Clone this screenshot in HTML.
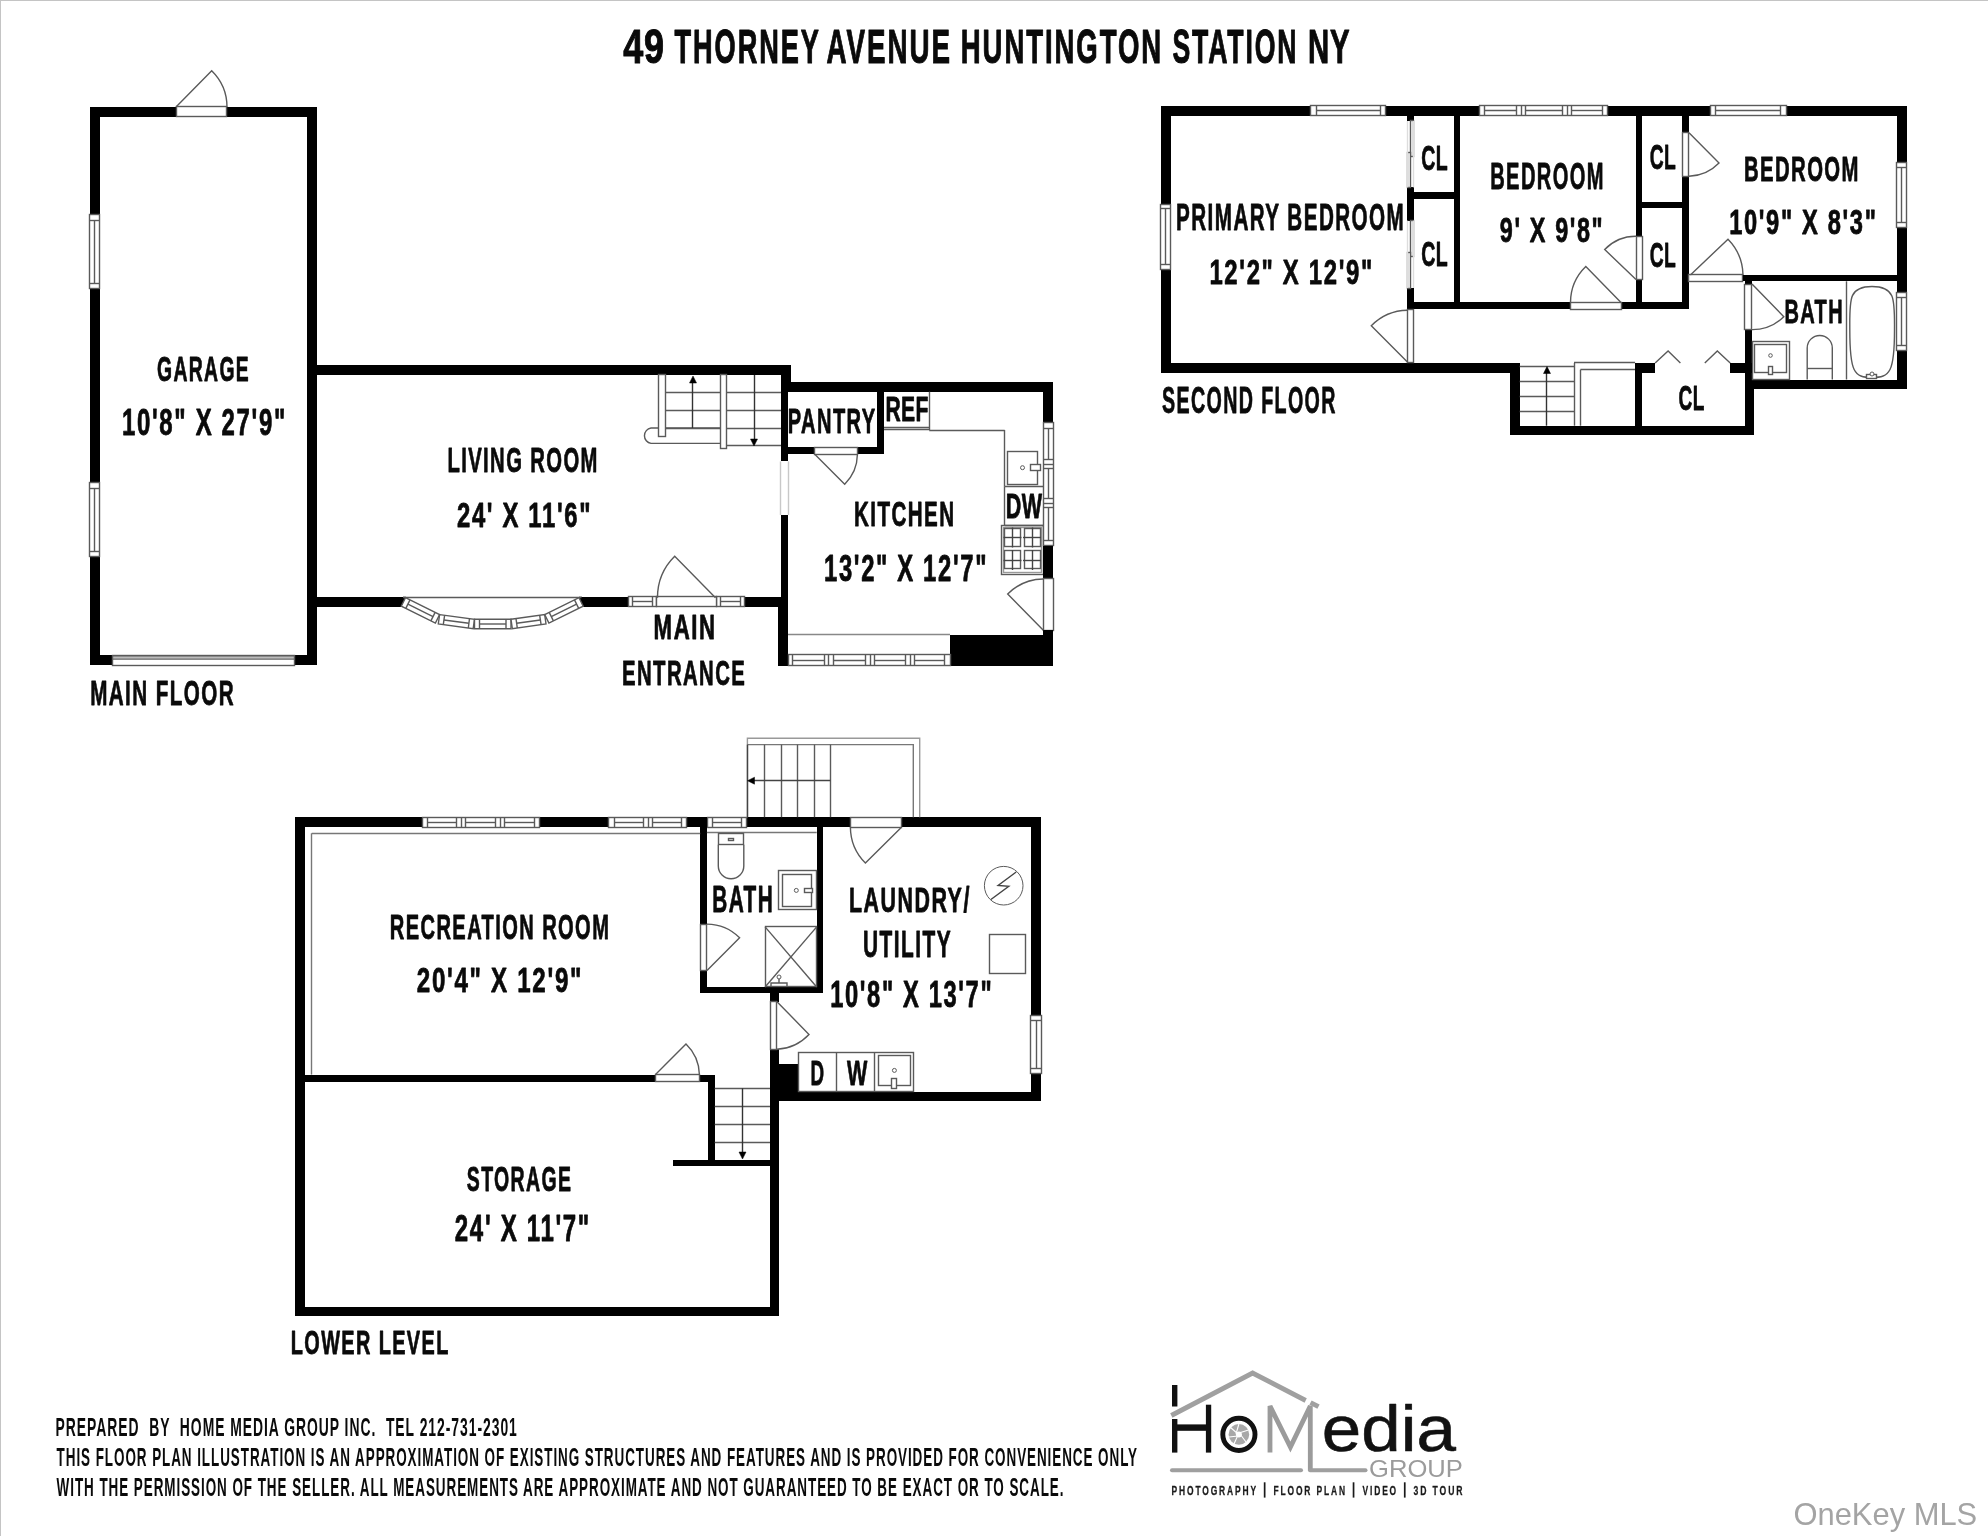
<!DOCTYPE html>
<html><head><meta charset="utf-8"><title>49 Thorney Avenue Floor Plan</title>
<style>
html,body{margin:0;padding:0;background:#fff;}
body{width:1988px;height:1536px;overflow:hidden;position:relative;}
svg{position:absolute;left:0;top:0;}
svg{will-change:transform;}
text{font-family:"Liberation Sans",sans-serif;}
</style></head><body>
<svg width="1988" height="1536" viewBox="0 0 1988 1536">
<rect x="0" y="0" width="1988" height="1" fill="#c4c4c4"/><rect x="0" y="0" width="1" height="1536" fill="#c4c4c4"/>
<rect x="90.0" y="107.0" width="86.0" height="10.0" fill="#000"/>
<rect x="227.0" y="107.0" width="90.0" height="10.0" fill="#000"/>
<rect x="90.0" y="107.0" width="10.0" height="108.0" fill="#000"/>
<rect x="90.0" y="288.0" width="10.0" height="195.0" fill="#000"/>
<rect x="90.0" y="556.0" width="10.0" height="109.0" fill="#000"/>
<rect x="307.0" y="107.0" width="10.0" height="558.0" fill="#000"/>
<rect x="90.0" y="655.0" width="22.0" height="10.0" fill="#000"/>
<rect x="294.0" y="655.0" width="23.0" height="10.0" fill="#000"/>
<rect x="89.5" y="214.5" width="10.0" height="74.0" fill="#fff" stroke="#5a5a5a" stroke-width="1.4"/>
<line x1="89.5" y1="220.5" x2="99.6" y2="220.5" stroke="#5a5a5a" stroke-width="1.4"/>
<line x1="89.5" y1="283.5" x2="99.6" y2="283.5" stroke="#5a5a5a" stroke-width="1.4"/>
<line x1="94.5" y1="220.0" x2="94.5" y2="283.5" stroke="#5a5a5a" stroke-width="1.4"/>
<rect x="89.5" y="482.5" width="10.0" height="74.0" fill="#fff" stroke="#5a5a5a" stroke-width="1.4"/>
<line x1="89.5" y1="488.5" x2="99.6" y2="488.5" stroke="#5a5a5a" stroke-width="1.4"/>
<line x1="89.5" y1="551.5" x2="99.6" y2="551.5" stroke="#5a5a5a" stroke-width="1.4"/>
<line x1="94.5" y1="488.0" x2="94.5" y2="551.5" stroke="#5a5a5a" stroke-width="1.4"/>
<rect x="176.5" y="106.5" width="50.0" height="10.0" fill="#fff" stroke="#5a5a5a" stroke-width="1.4"/>
<path d="M176.0 107.0 L211.7 70.8 A51.0 51.0 0 0 1 227.0 107.0" stroke="#5a5a5a" stroke-width="1.4" fill="none"/>
<rect x="112.0" y="655.0" width="182.0" height="5.0" fill="#8a8a8a"/>
<line x1="112.0" y1="657.5" x2="294.0" y2="657.5" stroke="#bbb" stroke-width="1.4"/>
<rect x="112.5" y="655.5" width="182.0" height="10.0" fill="none" stroke="#5a5a5a" stroke-width="1.4"/>
<rect x="317.0" y="365.0" width="474.0" height="10.0" fill="#000"/>
<rect x="781.0" y="365.0" width="10.0" height="27.0" fill="#000"/>
<rect x="781.0" y="382.0" width="7.0" height="79.0" fill="#000"/>
<line x1="780.5" y1="461.4" x2="780.5" y2="515.0" stroke="#c8c8c8" stroke-width="1.4"/>
<line x1="788.5" y1="461.4" x2="788.5" y2="515.0" stroke="#c8c8c8" stroke-width="1.4"/>
<rect x="781.0" y="515.0" width="7.0" height="92.0" fill="#000"/>
<rect x="778.0" y="597.0" width="10.0" height="69.0" fill="#000"/>
<rect x="317.0" y="597.0" width="86.0" height="10.0" fill="#000"/>
<rect x="582.0" y="597.0" width="46.0" height="10.0" fill="#000"/>
<path d="M403.0 597.0 L405.8 597.0 L402.0 606.6 L403.0 606.6 Z" stroke="#000" stroke-width="0.5" fill="#000"/>
<path d="M582.0 597.0 L579.0 597.0 L582.0 606.6 Z" stroke="#000" stroke-width="0.5" fill="#000"/>
<rect x="745.0" y="597.0" width="36.0" height="10.0" fill="#000"/>
<line x1="403.0" y1="597.5" x2="581.5" y2="597.5" stroke="#5a5a5a" stroke-width="1.4"/>
<path d="M405.5 597.7 L439.6 614.6 L435.4 623.1 L401.3 606.2 Z" stroke="#5a5a5a" stroke-width="1.4" fill="#fff"/>
<path d="M407.9 604.2 L433.0 616.6" stroke="#5a5a5a" stroke-width="1.4" fill="none"/>
<path d="M410.0 599.9 L405.8 608.4" stroke="#5a5a5a" stroke-width="1.4" fill="none"/>
<path d="M435.1 612.4 L430.9 620.9" stroke="#5a5a5a" stroke-width="1.4" fill="none"/>
<path d="M439.6 614.6 L474.5 619.3 L473.2 628.7 L438.3 624.0 Z" stroke="#5a5a5a" stroke-width="1.4" fill="#fff"/>
<path d="M443.9 620.0 L468.9 623.3" stroke="#5a5a5a" stroke-width="1.4" fill="none"/>
<path d="M444.6 615.3 L443.3 624.7" stroke="#5a5a5a" stroke-width="1.4" fill="none"/>
<path d="M469.5 618.6 L468.3 628.0" stroke="#5a5a5a" stroke-width="1.4" fill="none"/>
<path d="M474.5 619.3 L511.0 619.3 L511.0 628.8 L474.5 628.8 Z" stroke="#5a5a5a" stroke-width="1.4" fill="#fff"/>
<path d="M479.5 624.0 L506.0 624.0" stroke="#5a5a5a" stroke-width="1.4" fill="none"/>
<path d="M479.5 619.3 L479.5 628.8" stroke="#5a5a5a" stroke-width="1.4" fill="none"/>
<path d="M506.0 619.3 L506.0 628.8" stroke="#5a5a5a" stroke-width="1.4" fill="none"/>
<path d="M511.0 619.3 L544.7 614.6 L546.0 624.0 L512.3 628.7 Z" stroke="#5a5a5a" stroke-width="1.4" fill="#fff"/>
<path d="M516.6 623.3 L540.4 620.0" stroke="#5a5a5a" stroke-width="1.4" fill="none"/>
<path d="M516.0 618.6 L517.3 628.0" stroke="#5a5a5a" stroke-width="1.4" fill="none"/>
<path d="M539.7 615.3 L541.1 624.7" stroke="#5a5a5a" stroke-width="1.4" fill="none"/>
<path d="M544.7 614.6 L579.0 597.7 L583.2 606.2 L548.9 623.1 Z" stroke="#5a5a5a" stroke-width="1.4" fill="#fff"/>
<path d="M551.3 616.7 L576.6 604.2" stroke="#5a5a5a" stroke-width="1.4" fill="none"/>
<path d="M549.2 612.4 L553.4 620.9" stroke="#5a5a5a" stroke-width="1.4" fill="none"/>
<path d="M574.5 599.9 L578.7 608.4" stroke="#5a5a5a" stroke-width="1.4" fill="none"/>
<rect x="628.5" y="596.5" width="28.0" height="10.0" fill="#fff" stroke="#5a5a5a" stroke-width="1.4"/>
<line x1="632.5" y1="597.0" x2="632.5" y2="606.6" stroke="#5a5a5a" stroke-width="1.4"/>
<line x1="652.5" y1="597.0" x2="652.5" y2="606.6" stroke="#5a5a5a" stroke-width="1.4"/>
<line x1="633.0" y1="601.5" x2="652.0" y2="601.5" stroke="#5a5a5a" stroke-width="1.4"/>
<rect x="716.5" y="596.5" width="28.0" height="10.0" fill="#fff" stroke="#5a5a5a" stroke-width="1.4"/>
<line x1="720.5" y1="597.0" x2="720.5" y2="606.6" stroke="#5a5a5a" stroke-width="1.4"/>
<line x1="740.5" y1="597.0" x2="740.5" y2="606.6" stroke="#5a5a5a" stroke-width="1.4"/>
<line x1="721.0" y1="601.5" x2="740.0" y2="601.5" stroke="#5a5a5a" stroke-width="1.4"/>
<rect x="656.5" y="596.5" width="60.0" height="10.0" fill="#fff" stroke="#5a5a5a" stroke-width="1.4"/>
<path d="M715.5 597.7 L674.7 556.2 A58.0 58.0 0 0 0 657.5 597.7" stroke="#5a5a5a" stroke-width="1.4" fill="none"/>
<line x1="665.8" y1="392.5" x2="720.0" y2="392.5" stroke="#5a5a5a" stroke-width="1.4"/>
<line x1="727.0" y1="392.5" x2="781.0" y2="392.5" stroke="#5a5a5a" stroke-width="1.4"/>
<line x1="665.8" y1="410.5" x2="720.0" y2="410.5" stroke="#5a5a5a" stroke-width="1.4"/>
<line x1="727.0" y1="410.5" x2="781.0" y2="410.5" stroke="#5a5a5a" stroke-width="1.4"/>
<line x1="665.8" y1="428.5" x2="720.0" y2="428.5" stroke="#5a5a5a" stroke-width="1.4"/>
<line x1="727.0" y1="428.5" x2="781.0" y2="428.5" stroke="#5a5a5a" stroke-width="1.4"/>
<line x1="727.0" y1="445.5" x2="781.0" y2="445.5" stroke="#5a5a5a" stroke-width="1.4"/>
<path d="M720 428 L651 428 A7.8 7.8 0 0 0 651 443.4 L720 443.4" stroke="#5a5a5a" stroke-width="1.4" fill="none"/>
<rect x="658.5" y="374.5" width="7.0" height="62.0" fill="#fff" stroke="#5a5a5a" stroke-width="1.4"/>
<rect x="720.5" y="374.5" width="6.0" height="74.0" fill="#fff" stroke="#5a5a5a" stroke-width="1.4"/>
<line x1="692.5" y1="383.0" x2="692.5" y2="428.0" stroke="#333" stroke-width="1.4"/>
<path d="M689.5 383.0 L696.5 383.0 L693.0 376.0 Z" stroke="#000" stroke-width="0.5" fill="#000"/>
<line x1="754.5" y1="375.0" x2="754.5" y2="440.0" stroke="#333" stroke-width="1.4"/>
<path d="M750.5 439.0 L757.5 439.0 L754.0 446.0 Z" stroke="#000" stroke-width="0.5" fill="#000"/>
<rect x="791.0" y="382.0" width="262.0" height="10.0" fill="#000"/>
<rect x="788.0" y="447.0" width="26.0" height="7.0" fill="#000"/>
<rect x="857.0" y="447.0" width="27.0" height="7.0" fill="#000"/>
<rect x="877.0" y="392.0" width="7.0" height="62.0" fill="#000"/>
<rect x="814.5" y="447.5" width="43.0" height="7.0" fill="#fff" stroke="#5a5a5a" stroke-width="1.4"/>
<path d="M815.0 454.5 L844.7 484.2 A42.4 42.4 0 0 0 857.4 454.5" stroke="#5a5a5a" stroke-width="1.4" fill="none"/>
<line x1="884.0" y1="427.5" x2="929.2" y2="427.5" stroke="#5a5a5a" stroke-width="1.4"/>
<line x1="884.0" y1="429.5" x2="929.2" y2="429.5" stroke="#5a5a5a" stroke-width="1.4"/>
<line x1="929.5" y1="391.7" x2="929.5" y2="430.0" stroke="#5a5a5a" stroke-width="1.4"/>
<line x1="929.2" y1="430.5" x2="1004.7" y2="430.5" stroke="#5a5a5a" stroke-width="1.4"/>
<line x1="1004.5" y1="430.0" x2="1004.5" y2="486.2" stroke="#5a5a5a" stroke-width="1.4"/>
<rect x="1007.5" y="451.5" width="30.0" height="33.0" fill="none" stroke="#5a5a5a" stroke-width="1.4"/>
<circle cx="1022.5" cy="467.7" r="2" fill="none" stroke="#5a5a5a"/>
<rect x="1030.5" y="464.5" width="10.0" height="6.0" fill="#fff" stroke="#5a5a5a" stroke-width="1.4"/>
<line x1="1004.7" y1="486.5" x2="1043.3" y2="486.5" stroke="#5a5a5a" stroke-width="1.4"/>
<line x1="1004.5" y1="486.2" x2="1004.5" y2="525.3" stroke="#5a5a5a" stroke-width="1.4"/>
<line x1="1004.7" y1="525.5" x2="1043.3" y2="525.5" stroke="#5a5a5a" stroke-width="1.4"/>
<rect x="1001.5" y="525.5" width="42.0" height="49.0" fill="none" stroke="#5a5a5a" stroke-width="1.4"/>
<rect x="1003.5" y="527.5" width="38.0" height="45.0" fill="none" stroke="#999" stroke-width="1.4"/>
<rect x="1004.5" y="528.5" width="16.0" height="18.0" fill="none" stroke="#5a5a5a" stroke-width="1.4"/>
<line x1="1012.5" y1="527.5" x2="1012.5" y2="547.5" stroke="#444" stroke-width="1.4"/>
<line x1="1003.5" y1="537.5" x2="1021.5" y2="537.5" stroke="#444" stroke-width="1.4"/>
<rect x="1024.5" y="528.5" width="16.0" height="18.0" fill="none" stroke="#5a5a5a" stroke-width="1.4"/>
<line x1="1032.5" y1="527.5" x2="1032.5" y2="547.5" stroke="#444" stroke-width="1.4"/>
<line x1="1023.0" y1="537.5" x2="1041.0" y2="537.5" stroke="#444" stroke-width="1.4"/>
<rect x="1004.5" y="550.5" width="16.0" height="18.0" fill="none" stroke="#5a5a5a" stroke-width="1.4"/>
<line x1="1012.5" y1="550.0" x2="1012.5" y2="570.0" stroke="#444" stroke-width="1.4"/>
<line x1="1003.5" y1="560.5" x2="1021.5" y2="560.5" stroke="#444" stroke-width="1.4"/>
<rect x="1024.5" y="550.5" width="16.0" height="18.0" fill="none" stroke="#5a5a5a" stroke-width="1.4"/>
<line x1="1032.5" y1="550.0" x2="1032.5" y2="570.0" stroke="#444" stroke-width="1.4"/>
<line x1="1023.0" y1="560.5" x2="1041.0" y2="560.5" stroke="#444" stroke-width="1.4"/>
<line x1="788.0" y1="634.5" x2="950.0" y2="634.5" stroke="#888" stroke-width="1.4"/>
<rect x="950.0" y="635.0" width="103.0" height="31.0" fill="#000"/>
<rect x="1043.0" y="382.0" width="10.0" height="41.0" fill="#000"/>
<rect x="1043.5" y="422.5" width="10.0" height="123.0" fill="#fff" stroke="#5a5a5a" stroke-width="1.4"/>
<line x1="1043.3" y1="428.5" x2="1053.3" y2="428.5" stroke="#5a5a5a" stroke-width="1.4"/>
<line x1="1043.3" y1="459.5" x2="1053.3" y2="459.5" stroke="#5a5a5a" stroke-width="1.4"/>
<line x1="1048.5" y1="428.0" x2="1048.5" y2="459.8" stroke="#5a5a5a" stroke-width="1.4"/>
<line x1="1043.3" y1="468.5" x2="1053.3" y2="468.5" stroke="#5a5a5a" stroke-width="1.4"/>
<line x1="1043.3" y1="498.5" x2="1053.3" y2="498.5" stroke="#5a5a5a" stroke-width="1.4"/>
<line x1="1048.5" y1="468.8" x2="1048.5" y2="498.9" stroke="#5a5a5a" stroke-width="1.4"/>
<line x1="1043.3" y1="507.5" x2="1053.3" y2="507.5" stroke="#5a5a5a" stroke-width="1.4"/>
<line x1="1043.3" y1="540.5" x2="1053.3" y2="540.5" stroke="#5a5a5a" stroke-width="1.4"/>
<line x1="1048.5" y1="507.9" x2="1048.5" y2="540.8" stroke="#5a5a5a" stroke-width="1.4"/>
<line x1="1043.3" y1="464.5" x2="1053.3" y2="464.5" stroke="#5a5a5a" stroke-width="1.4"/>
<line x1="1043.3" y1="503.5" x2="1053.3" y2="503.5" stroke="#5a5a5a" stroke-width="1.4"/>
<rect x="1043.0" y="546.0" width="10.0" height="33.0" fill="#000"/>
<rect x="1043.5" y="578.5" width="10.0" height="52.0" fill="#fff" stroke="#5a5a5a" stroke-width="1.4"/>
<rect x="1043.0" y="630.0" width="10.0" height="36.0" fill="#000"/>
<path d="M1043.3 630.2 L1007.7 594.0 A51.2 51.2 0 0 1 1043.3 579.0" stroke="#5a5a5a" stroke-width="1.4" fill="none"/>
<rect x="788.5" y="654.5" width="162.0" height="11.0" fill="#fff" stroke="#5a5a5a" stroke-width="1.4"/>
<line x1="792.5" y1="655.0" x2="792.5" y2="665.6" stroke="#5a5a5a" stroke-width="1.4"/>
<line x1="824.5" y1="655.0" x2="824.5" y2="665.6" stroke="#5a5a5a" stroke-width="1.4"/>
<line x1="793.0" y1="660.5" x2="824.5" y2="660.5" stroke="#5a5a5a" stroke-width="1.4"/>
<line x1="833.5" y1="655.0" x2="833.5" y2="665.6" stroke="#5a5a5a" stroke-width="1.4"/>
<line x1="865.5" y1="655.0" x2="865.5" y2="665.6" stroke="#5a5a5a" stroke-width="1.4"/>
<line x1="833.5" y1="660.5" x2="865.5" y2="660.5" stroke="#5a5a5a" stroke-width="1.4"/>
<line x1="874.5" y1="655.0" x2="874.5" y2="665.6" stroke="#5a5a5a" stroke-width="1.4"/>
<line x1="905.5" y1="655.0" x2="905.5" y2="665.6" stroke="#5a5a5a" stroke-width="1.4"/>
<line x1="874.5" y1="660.5" x2="905.5" y2="660.5" stroke="#5a5a5a" stroke-width="1.4"/>
<line x1="914.5" y1="655.0" x2="914.5" y2="665.6" stroke="#5a5a5a" stroke-width="1.4"/>
<line x1="944.5" y1="655.0" x2="944.5" y2="665.6" stroke="#5a5a5a" stroke-width="1.4"/>
<line x1="914.5" y1="660.5" x2="945.0" y2="660.5" stroke="#5a5a5a" stroke-width="1.4"/>
<line x1="828.5" y1="655.0" x2="828.5" y2="665.6" stroke="#5a5a5a" stroke-width="1.4"/>
<line x1="870.5" y1="655.0" x2="870.5" y2="665.6" stroke="#5a5a5a" stroke-width="1.4"/>
<line x1="910.5" y1="655.0" x2="910.5" y2="665.6" stroke="#5a5a5a" stroke-width="1.4"/>
<rect x="1161.0" y="106.0" width="150.0" height="10.0" fill="#000"/>
<rect x="1386.0" y="106.0" width="94.0" height="10.0" fill="#000"/>
<rect x="1608.0" y="106.0" width="103.0" height="10.0" fill="#000"/>
<rect x="1786.0" y="106.0" width="121.0" height="10.0" fill="#000"/>
<rect x="1310.5" y="105.5" width="75.0" height="10.0" fill="#fff" stroke="#5a5a5a" stroke-width="1.4"/>
<line x1="1316.5" y1="105.5" x2="1316.5" y2="115.5" stroke="#5a5a5a" stroke-width="1.4"/>
<line x1="1380.5" y1="105.5" x2="1380.5" y2="115.5" stroke="#5a5a5a" stroke-width="1.4"/>
<line x1="1316.0" y1="110.5" x2="1380.7" y2="110.5" stroke="#5a5a5a" stroke-width="1.4"/>
<rect x="1479.5" y="105.5" width="128.0" height="10.0" fill="#fff" stroke="#5a5a5a" stroke-width="1.4"/>
<line x1="1484.5" y1="105.5" x2="1484.5" y2="115.5" stroke="#5a5a5a" stroke-width="1.4"/>
<line x1="1516.5" y1="105.5" x2="1516.5" y2="115.5" stroke="#5a5a5a" stroke-width="1.4"/>
<line x1="1484.8" y1="110.5" x2="1516.8" y2="110.5" stroke="#5a5a5a" stroke-width="1.4"/>
<line x1="1525.5" y1="105.5" x2="1525.5" y2="115.5" stroke="#5a5a5a" stroke-width="1.4"/>
<line x1="1562.5" y1="105.5" x2="1562.5" y2="115.5" stroke="#5a5a5a" stroke-width="1.4"/>
<line x1="1525.8" y1="110.5" x2="1562.9" y2="110.5" stroke="#5a5a5a" stroke-width="1.4"/>
<line x1="1571.5" y1="105.5" x2="1571.5" y2="115.5" stroke="#5a5a5a" stroke-width="1.4"/>
<line x1="1602.5" y1="105.5" x2="1602.5" y2="115.5" stroke="#5a5a5a" stroke-width="1.4"/>
<line x1="1571.9" y1="110.5" x2="1602.9" y2="110.5" stroke="#5a5a5a" stroke-width="1.4"/>
<line x1="1521.5" y1="105.5" x2="1521.5" y2="115.5" stroke="#5a5a5a" stroke-width="1.4"/>
<line x1="1567.5" y1="105.5" x2="1567.5" y2="115.5" stroke="#5a5a5a" stroke-width="1.4"/>
<rect x="1710.5" y="105.5" width="76.0" height="10.0" fill="#fff" stroke="#5a5a5a" stroke-width="1.4"/>
<line x1="1715.5" y1="105.5" x2="1715.5" y2="115.5" stroke="#5a5a5a" stroke-width="1.4"/>
<line x1="1780.5" y1="105.5" x2="1780.5" y2="115.5" stroke="#5a5a5a" stroke-width="1.4"/>
<line x1="1715.9" y1="110.5" x2="1781.0" y2="110.5" stroke="#5a5a5a" stroke-width="1.4"/>
<rect x="1161.0" y="106.0" width="10.0" height="98.0" fill="#000"/>
<rect x="1161.0" y="269.0" width="10.0" height="104.0" fill="#000"/>
<rect x="1160.5" y="204.5" width="10.0" height="65.0" fill="#fff" stroke="#5a5a5a" stroke-width="1.4"/>
<line x1="1160.6" y1="208.5" x2="1171.0" y2="208.5" stroke="#5a5a5a" stroke-width="1.4"/>
<line x1="1160.6" y1="264.5" x2="1171.0" y2="264.5" stroke="#5a5a5a" stroke-width="1.4"/>
<line x1="1165.5" y1="209.0" x2="1165.5" y2="264.2" stroke="#5a5a5a" stroke-width="1.4"/>
<rect x="1161.0" y="363.0" width="359.0" height="10.0" fill="#000"/>
<rect x="1407.0" y="116.0" width="7.0" height="5.0" fill="#000"/>
<rect x="1407.0" y="187.0" width="7.0" height="34.0" fill="#000"/>
<rect x="1407.0" y="288.0" width="7.0" height="22.0" fill="#000"/>
<rect x="1410.5" y="120.5" width="3.0" height="36.0" fill="#fff" stroke="#5a5a5a" stroke-width="1.4"/>
<rect x="1407.5" y="152.5" width="3.0" height="35.0" fill="#fff" stroke="#5a5a5a" stroke-width="1.4"/>
<line x1="1413.5" y1="121.0" x2="1413.5" y2="187.4" stroke="#ddd" stroke-width="1.4"/>
<line x1="1407.5" y1="121.0" x2="1407.5" y2="187.4" stroke="#ddd" stroke-width="1.4"/>
<rect x="1410.5" y="220.5" width="3.0" height="36.0" fill="#fff" stroke="#5a5a5a" stroke-width="1.4"/>
<rect x="1407.5" y="252.5" width="3.0" height="36.0" fill="#fff" stroke="#5a5a5a" stroke-width="1.4"/>
<line x1="1413.5" y1="220.6" x2="1413.5" y2="288.0" stroke="#ddd" stroke-width="1.4"/>
<line x1="1407.5" y1="220.6" x2="1407.5" y2="288.0" stroke="#ddd" stroke-width="1.4"/>
<rect x="1414.0" y="192.0" width="40.0" height="7.0" fill="#000"/>
<rect x="1454.0" y="116.0" width="6.0" height="193.0" fill="#000"/>
<rect x="1407.0" y="302.0" width="163.0" height="7.0" fill="#000"/>
<rect x="1622.0" y="302.0" width="67.0" height="7.0" fill="#000"/>
<rect x="1407.5" y="309.5" width="6.0" height="53.0" fill="#fff" stroke="#5a5a5a" stroke-width="1.4"/>
<path d="M1407.4 362.0 L1371.3 325.7 A51.8 51.8 0 0 1 1407.4 310.2" stroke="#5a5a5a" stroke-width="1.4" fill="none"/>
<rect x="1570.5" y="302.5" width="51.0" height="7.0" fill="#fff" stroke="#5a5a5a" stroke-width="1.4"/>
<path d="M1621.0 302.4 L1585.8 266.6 A50.5 50.5 0 0 0 1570.5 302.4" stroke="#5a5a5a" stroke-width="1.4" fill="none"/>
<rect x="1636.0" y="116.0" width="6.0" height="120.0" fill="#000"/>
<rect x="1636.0" y="280.0" width="6.0" height="29.0" fill="#000"/>
<rect x="1636.5" y="236.5" width="6.0" height="43.0" fill="#fff" stroke="#5a5a5a" stroke-width="1.4"/>
<path d="M1636.0 279.6 L1604.7 249.5 A43.3 43.3 0 0 1 1636.0 236.3" stroke="#5a5a5a" stroke-width="1.4" fill="none"/>
<rect x="1642.0" y="202.0" width="40.0" height="6.0" fill="#000"/>
<rect x="1682.0" y="116.0" width="7.0" height="17.0" fill="#000"/>
<rect x="1682.0" y="176.0" width="7.0" height="133.0" fill="#000"/>
<rect x="1682.5" y="132.5" width="6.0" height="44.0" fill="#fff" stroke="#5a5a5a" stroke-width="1.4"/>
<path d="M1689.0 132.8 L1719.0 163.0 A43.4 43.4 0 0 1 1689.0 176.2" stroke="#5a5a5a" stroke-width="1.4" fill="none"/>
<rect x="1688.5" y="274.5" width="54.0" height="7.0" fill="#fff" stroke="#5a5a5a" stroke-width="1.4"/>
<path d="M1690.4 275.0 L1728.0 239.2 A52.6 52.6 0 0 1 1743.0 275.0" stroke="#5a5a5a" stroke-width="1.4" fill="none"/>
<rect x="1743.0" y="275.0" width="164.0" height="6.0" fill="#000"/>
<rect x="1897.0" y="106.0" width="10.0" height="57.0" fill="#000"/>
<rect x="1897.0" y="228.0" width="10.0" height="65.0" fill="#000"/>
<rect x="1897.0" y="351.0" width="10.0" height="38.0" fill="#000"/>
<rect x="1896.5" y="162.5" width="10.0" height="65.0" fill="#fff" stroke="#5a5a5a" stroke-width="1.4"/>
<line x1="1897.0" y1="167.5" x2="1906.8" y2="167.5" stroke="#5a5a5a" stroke-width="1.4"/>
<line x1="1897.0" y1="222.5" x2="1906.8" y2="222.5" stroke="#5a5a5a" stroke-width="1.4"/>
<line x1="1901.5" y1="167.9" x2="1901.5" y2="222.8" stroke="#5a5a5a" stroke-width="1.4"/>
<rect x="1896.5" y="292.5" width="10.0" height="58.0" fill="#fff" stroke="#5a5a5a" stroke-width="1.4"/>
<line x1="1897.0" y1="297.5" x2="1906.8" y2="297.5" stroke="#5a5a5a" stroke-width="1.4"/>
<line x1="1897.0" y1="345.5" x2="1906.8" y2="345.5" stroke="#5a5a5a" stroke-width="1.4"/>
<line x1="1901.5" y1="297.7" x2="1901.5" y2="345.8" stroke="#5a5a5a" stroke-width="1.4"/>
<rect x="1745.0" y="281.0" width="7.0" height="3.0" fill="#000"/>
<rect x="1745.0" y="330.0" width="7.0" height="59.0" fill="#000"/>
<rect x="1744.5" y="284.5" width="7.0" height="45.0" fill="#fff" stroke="#5a5a5a" stroke-width="1.4"/>
<path d="M1752.0 284.0 L1783.8 316.7 A45.6 45.6 0 0 1 1752.0 329.6" stroke="#5a5a5a" stroke-width="1.4" fill="none"/>
<rect x="1745.0" y="380.0" width="162.0" height="9.0" fill="#000"/>
<line x1="1846.5" y1="281.3" x2="1846.5" y2="379.5" stroke="#5a5a5a" stroke-width="1.4"/>
<path d="M1872 286.5 C1896 286.5 1894.5 300 1894.5 330 C1894.5 372 1890 377.5 1872 377.5 C1854 377.5 1849.8 372 1849.8 330 C1849.8 300 1848 286.5 1872 286.5 Z" stroke="#5a5a5a" stroke-width="1.4" fill="none"/>
<rect x="1866.5" y="374.5" width="10.0" height="4.0" fill="#fff" stroke="#5a5a5a" stroke-width="1.4"/>
<circle cx="1872" cy="374" r="2" fill="#fff" stroke="#5a5a5a"/>
<rect x="1752.5" y="341.5" width="37.0" height="38.0" fill="none" stroke="#5a5a5a" stroke-width="1.4"/>
<rect x="1754.5" y="344.5" width="32.0" height="28.0" fill="none" stroke="#5a5a5a" stroke-width="1.4"/>
<circle cx="1770.5" cy="355.5" r="1.8" fill="none" stroke="#5a5a5a"/>
<rect x="1768.5" y="366.5" width="4.0" height="8.0" fill="#fff" stroke="#5a5a5a" stroke-width="1.4"/>
<path d="M1807.2 379.5 L1807.2 348 A12.55 12.55 0 0 1 1832.3 348 L1832.3 379.5" stroke="#5a5a5a" stroke-width="1.4" fill="none"/>
<line x1="1807.2" y1="368.5" x2="1832.3" y2="368.5" stroke="#5a5a5a" stroke-width="1.4"/>
<rect x="1510.0" y="363.0" width="10.0" height="72.0" fill="#000"/>
<rect x="1510.0" y="426.0" width="244.0" height="9.0" fill="#000"/>
<line x1="1519.7" y1="366.5" x2="1574.0" y2="366.5" stroke="#5a5a5a" stroke-width="1.4"/>
<line x1="1519.7" y1="381.5" x2="1574.0" y2="381.5" stroke="#5a5a5a" stroke-width="1.4"/>
<line x1="1519.7" y1="396.5" x2="1574.0" y2="396.5" stroke="#5a5a5a" stroke-width="1.4"/>
<line x1="1519.7" y1="411.5" x2="1574.0" y2="411.5" stroke="#5a5a5a" stroke-width="1.4"/>
<line x1="1574.5" y1="362.9" x2="1574.5" y2="425.7" stroke="#5a5a5a" stroke-width="1.4"/>
<line x1="1574.0" y1="362.5" x2="1635.1" y2="362.5" stroke="#5a5a5a" stroke-width="1.4"/>
<line x1="1580.4" y1="369.5" x2="1635.1" y2="369.5" stroke="#5a5a5a" stroke-width="1.4"/>
<line x1="1580.5" y1="369.7" x2="1580.5" y2="425.7" stroke="#5a5a5a" stroke-width="1.4"/>
<line x1="1546.5" y1="373.0" x2="1546.5" y2="425.7" stroke="#333" stroke-width="1.4"/>
<path d="M1543.5 373.5 L1550.5 373.5 L1547.0 366.5 Z" stroke="#000" stroke-width="0.5" fill="#000"/>
<rect x="1635.0" y="363.0" width="7.0" height="72.0" fill="#000"/>
<rect x="1635.0" y="363.0" width="20.0" height="10.0" fill="#000"/>
<rect x="1730.0" y="363.0" width="22.0" height="10.0" fill="#000"/>
<rect x="1745.0" y="389.0" width="9.0" height="46.0" fill="#000"/>
<path d="M1655.1 363.0 L1668.1 351.0 L1680.4 362.9" stroke="#5a5a5a" stroke-width="1.4" fill="none"/>
<path d="M1704.8 362.9 L1717.3 351.0 L1730.2 363.0" stroke="#5a5a5a" stroke-width="1.4" fill="none"/>
<rect x="295.0" y="817.0" width="127.0" height="10.0" fill="#000"/>
<rect x="539.0" y="817.0" width="70.0" height="10.0" fill="#000"/>
<rect x="687.0" y="817.0" width="20.0" height="10.0" fill="#000"/>
<rect x="746.0" y="817.0" width="104.0" height="10.0" fill="#000"/>
<rect x="902.0" y="817.0" width="139.0" height="10.0" fill="#000"/>
<rect x="422.5" y="817.5" width="117.0" height="10.0" fill="#fff" stroke="#5a5a5a" stroke-width="1.4"/>
<line x1="427.5" y1="817.2" x2="427.5" y2="827.2" stroke="#5a5a5a" stroke-width="1.4"/>
<line x1="456.5" y1="817.2" x2="456.5" y2="827.2" stroke="#5a5a5a" stroke-width="1.4"/>
<line x1="427.2" y1="822.5" x2="456.7" y2="822.5" stroke="#5a5a5a" stroke-width="1.4"/>
<line x1="465.5" y1="817.2" x2="465.5" y2="827.2" stroke="#5a5a5a" stroke-width="1.4"/>
<line x1="495.5" y1="817.2" x2="495.5" y2="827.2" stroke="#5a5a5a" stroke-width="1.4"/>
<line x1="465.7" y1="822.5" x2="495.7" y2="822.5" stroke="#5a5a5a" stroke-width="1.4"/>
<line x1="504.5" y1="817.2" x2="504.5" y2="827.2" stroke="#5a5a5a" stroke-width="1.4"/>
<line x1="534.5" y1="817.2" x2="534.5" y2="827.2" stroke="#5a5a5a" stroke-width="1.4"/>
<line x1="504.7" y1="822.5" x2="534.3" y2="822.5" stroke="#5a5a5a" stroke-width="1.4"/>
<line x1="461.5" y1="817.2" x2="461.5" y2="827.2" stroke="#5a5a5a" stroke-width="1.4"/>
<line x1="500.5" y1="817.2" x2="500.5" y2="827.2" stroke="#5a5a5a" stroke-width="1.4"/>
<rect x="608.5" y="817.5" width="78.0" height="10.0" fill="#fff" stroke="#5a5a5a" stroke-width="1.4"/>
<line x1="614.5" y1="817.2" x2="614.5" y2="827.2" stroke="#5a5a5a" stroke-width="1.4"/>
<line x1="643.5" y1="817.2" x2="643.5" y2="827.2" stroke="#5a5a5a" stroke-width="1.4"/>
<line x1="614.0" y1="822.5" x2="643.5" y2="822.5" stroke="#5a5a5a" stroke-width="1.4"/>
<line x1="652.5" y1="817.2" x2="652.5" y2="827.2" stroke="#5a5a5a" stroke-width="1.4"/>
<line x1="681.5" y1="817.2" x2="681.5" y2="827.2" stroke="#5a5a5a" stroke-width="1.4"/>
<line x1="652.5" y1="822.5" x2="681.9" y2="822.5" stroke="#5a5a5a" stroke-width="1.4"/>
<line x1="648.5" y1="817.2" x2="648.5" y2="827.2" stroke="#5a5a5a" stroke-width="1.4"/>
<rect x="707.5" y="817.5" width="39.0" height="10.0" fill="#fff" stroke="#5a5a5a" stroke-width="1.4"/>
<line x1="712.5" y1="817.2" x2="712.5" y2="827.2" stroke="#5a5a5a" stroke-width="1.4"/>
<line x1="741.5" y1="817.2" x2="741.5" y2="827.2" stroke="#5a5a5a" stroke-width="1.4"/>
<line x1="712.3" y1="822.5" x2="741.5" y2="822.5" stroke="#5a5a5a" stroke-width="1.4"/>
<rect x="850.5" y="817.5" width="51.0" height="10.0" fill="#fff" stroke="#5a5a5a" stroke-width="1.4"/>
<path d="M901.5 827.2 L865.4 863.0 A51.1 51.1 0 0 1 850.4 827.2" stroke="#5a5a5a" stroke-width="1.4" fill="none"/>
<rect x="295.0" y="817.0" width="10.0" height="499.0" fill="#000"/>
<rect x="1031.0" y="817.0" width="10.0" height="198.0" fill="#000"/>
<rect x="1031.0" y="1074.0" width="10.0" height="27.0" fill="#000"/>
<rect x="1030.5" y="1015.5" width="11.0" height="58.0" fill="#fff" stroke="#5a5a5a" stroke-width="1.4"/>
<line x1="1030.9" y1="1020.5" x2="1041.4" y2="1020.5" stroke="#5a5a5a" stroke-width="1.4"/>
<line x1="1030.9" y1="1068.5" x2="1041.4" y2="1068.5" stroke="#5a5a5a" stroke-width="1.4"/>
<line x1="1036.5" y1="1020.4" x2="1036.5" y2="1068.5" stroke="#5a5a5a" stroke-width="1.4"/>
<rect x="779.0" y="1092.0" width="262.0" height="9.0" fill="#000"/>
<rect x="700.0" y="817.0" width="7.0" height="107.0" fill="#000"/>
<rect x="700.0" y="971.0" width="7.0" height="22.0" fill="#000"/>
<rect x="700.5" y="924.5" width="6.0" height="46.0" fill="#fff" stroke="#5a5a5a" stroke-width="1.4"/>
<path d="M707.0 970.6 L739.6 937.8 A46.5 46.5 0 0 0 707.0 924.1" stroke="#5a5a5a" stroke-width="1.4" fill="none"/>
<rect x="817.0" y="827.0" width="6.0" height="166.0" fill="#000"/>
<rect x="700.0" y="987.0" width="123.0" height="6.0" fill="#000"/>
<rect x="770.0" y="993.0" width="9.0" height="9.0" fill="#000"/>
<rect x="770.0" y="1049.0" width="9.0" height="267.0" fill="#000"/>
<rect x="770.5" y="1001.5" width="6.0" height="48.0" fill="#fff" stroke="#5a5a5a" stroke-width="1.4"/>
<path d="M777.0 1001.7 L809.0 1034.4 A47.5 47.5 0 0 1 777.0 1049.2" stroke="#5a5a5a" stroke-width="1.4" fill="none"/>
<rect x="779.0" y="1064.0" width="19.0" height="28.0" fill="#000"/>
<rect x="305.0" y="1075.0" width="350.0" height="7.0" fill="#000"/>
<rect x="699.0" y="1075.0" width="16.0" height="7.0" fill="#000"/>
<rect x="655.5" y="1074.5" width="44.0" height="7.0" fill="#fff" stroke="#5a5a5a" stroke-width="1.4"/>
<path d="M655.5 1074.6 L686.0 1044.0 A43.9 43.9 0 0 1 699.4 1074.6" stroke="#5a5a5a" stroke-width="1.4" fill="none"/>
<rect x="708.0" y="1075.0" width="7.0" height="91.0" fill="#000"/>
<rect x="673.0" y="1160.0" width="97.0" height="6.0" fill="#000"/>
<rect x="295.0" y="1307.0" width="484.0" height="9.0" fill="#000"/>
<line x1="714.7" y1="1088.5" x2="770.0" y2="1088.5" stroke="#5a5a5a" stroke-width="1.4"/>
<line x1="714.7" y1="1106.5" x2="770.0" y2="1106.5" stroke="#5a5a5a" stroke-width="1.4"/>
<line x1="714.7" y1="1124.5" x2="770.0" y2="1124.5" stroke="#5a5a5a" stroke-width="1.4"/>
<line x1="714.7" y1="1142.5" x2="770.0" y2="1142.5" stroke="#5a5a5a" stroke-width="1.4"/>
<line x1="742.5" y1="1088.3" x2="742.5" y2="1153.0" stroke="#333" stroke-width="1.4"/>
<path d="M739.0 1152.0 L746.0 1152.0 L742.5 1159.0 Z" stroke="#000" stroke-width="0.5" fill="#000"/>
<path d="M747.4 817.2 L747.4 738.2 L919.7 738.2 L919.7 817.2" stroke="#999" stroke-width="1.4" fill="none"/>
<path d="M747.4 744.6 L913.3 744.6 L913.3 817.2" stroke="#777" stroke-width="1.4" fill="none"/>
<line x1="764.5" y1="744.6" x2="764.5" y2="817.2" stroke="#5a5a5a" stroke-width="1.4"/>
<line x1="781.5" y1="744.6" x2="781.5" y2="817.2" stroke="#5a5a5a" stroke-width="1.4"/>
<line x1="797.5" y1="744.6" x2="797.5" y2="817.2" stroke="#5a5a5a" stroke-width="1.4"/>
<line x1="814.5" y1="744.6" x2="814.5" y2="817.2" stroke="#5a5a5a" stroke-width="1.4"/>
<line x1="830.5" y1="744.6" x2="830.5" y2="817.2" stroke="#5a5a5a" stroke-width="1.4"/>
<line x1="747.5" y1="744.6" x2="747.5" y2="817.2" stroke="#444" stroke-width="1.4"/>
<line x1="754.0" y1="780.5" x2="830.4" y2="780.5" stroke="#444" stroke-width="1.4"/>
<path d="M754.5 777.2 L754.5 784.2 L747.5 780.7 Z" stroke="#000" stroke-width="0.5" fill="#000"/>
<line x1="311.7" y1="833.5" x2="700.2" y2="833.5" stroke="#777" stroke-width="1.4"/>
<line x1="311.5" y1="833.3" x2="311.5" y2="1074.6" stroke="#777" stroke-width="1.4"/>
<line x1="706.9" y1="832.5" x2="816.7" y2="832.5" stroke="#777" stroke-width="1.4"/>
<rect x="718.5" y="833.5" width="25.0" height="11.0" fill="none" stroke="#5a5a5a" stroke-width="1.4"/>
<path d="M718.3 844.8 L718.3 866 A12.75 12.75 0 0 0 743.8 866 L743.8 844.8" stroke="#5a5a5a" stroke-width="1.4" fill="none"/>
<rect x="728.5" y="838.5" width="5.0" height="2.0" fill="none" stroke="#5a5a5a" stroke-width="1.4"/>
<rect x="778.5" y="870.5" width="38.0" height="39.0" fill="none" stroke="#5a5a5a" stroke-width="1.4"/>
<rect x="782.5" y="874.5" width="29.0" height="32.0" fill="none" stroke="#5a5a5a" stroke-width="1.4"/>
<circle cx="796.3" cy="890.4" r="2" fill="none" stroke="#5a5a5a"/>
<rect x="804.5" y="888.5" width="8.0" height="4.0" fill="#fff" stroke="#5a5a5a" stroke-width="1.4"/>
<rect x="765.5" y="926.5" width="51.0" height="60.0" fill="none" stroke="#5a5a5a" stroke-width="1.4"/>
<line x1="765.1" y1="926.9" x2="816.7" y2="987.0" stroke="#5a5a5a" stroke-width="1.4"/>
<line x1="816.7" y1="926.9" x2="765.1" y2="987.0" stroke="#5a5a5a" stroke-width="1.4"/>
<path d="M771 987 L771 983 L787 983 L787 987 M779 983 L779 978" stroke="#5a5a5a" stroke-width="1.4" fill="none"/>
<circle cx="779" cy="977" r="2" fill="#fff" stroke="#5a5a5a"/>
<circle cx="1003.7" cy="885.7" r="19.3" fill="none" stroke="#5a5a5a"/>
<path d="M1016.2 872.0 L998.1 885.4 L1008.8 886.4 L990.9 899.5" stroke="#444" stroke-width="1.4" fill="none"/>
<rect x="989.5" y="934.5" width="36.0" height="39.0" fill="none" stroke="#5a5a5a" stroke-width="1.4"/>
<rect x="798.5" y="1052.5" width="115.0" height="39.0" fill="none" stroke="#5a5a5a" stroke-width="1.4"/>
<line x1="836.5" y1="1052.4" x2="836.5" y2="1091.5" stroke="#5a5a5a" stroke-width="1.4"/>
<line x1="874.5" y1="1052.4" x2="874.5" y2="1091.5" stroke="#5a5a5a" stroke-width="1.4"/>
<rect x="878.5" y="1055.5" width="32.0" height="30.0" fill="none" stroke="#5a5a5a" stroke-width="1.4"/>
<circle cx="894.4" cy="1070.4" r="2" fill="none" stroke="#5a5a5a"/>
<rect x="891.5" y="1078.5" width="5.0" height="10.0" fill="#fff" stroke="#5a5a5a" stroke-width="1.4"/>
<text x="157.00" y="381.00" font-size="35.83" font-weight="bold" textLength="93.10" lengthAdjust="spacingAndGlyphs" style="white-space:pre;fill:#0a0a0a;stroke:#0a0a0a;stroke-width:0.8060377358490564px;stroke-linejoin:round;letter-spacing:0.07em">GARAGE</text>
<text x="122.00" y="435.00" font-size="36.72" font-weight="bold" textLength="164.92" lengthAdjust="spacingAndGlyphs" style="white-space:pre;fill:#0a0a0a;stroke:#0a0a0a;stroke-width:0.8090566037735853px;stroke-linejoin:round;letter-spacing:0.07em">10&#x27;8&quot; X 27&#x27;9&quot;</text>
<text x="90.20" y="704.60" font-size="34.83" font-weight="bold" textLength="144.92" lengthAdjust="spacingAndGlyphs" style="white-space:pre;fill:#0a0a0a;stroke:#0a0a0a;stroke-width:0.772830188679246px;stroke-linejoin:round;letter-spacing:0.07em">MAIN FLOOR</text>
<text x="447.40" y="472.20" font-size="34.86" font-weight="bold" textLength="151.48" lengthAdjust="spacingAndGlyphs" style="white-space:pre;fill:#0a0a0a;stroke:#0a0a0a;stroke-width:0.796981132075471px;stroke-linejoin:round;letter-spacing:0.07em">LIVING ROOM</text>
<text x="457.00" y="527.00" font-size="35.83" font-weight="bold" textLength="135.12" lengthAdjust="spacingAndGlyphs" style="white-space:pre;fill:#0a0a0a;stroke:#0a0a0a;stroke-width:0.8150943396226416px;stroke-linejoin:round;letter-spacing:0.07em">24&#x27; X 11&#x27;6&quot;</text>
<text x="653.60" y="639.00" font-size="34.47" font-weight="bold" textLength="62.97" lengthAdjust="spacingAndGlyphs" style="white-space:pre;fill:#0a0a0a;stroke:#0a0a0a;stroke-width:0.8000000000000002px;stroke-linejoin:round;letter-spacing:0.07em">MAIN</text>
<text x="622.00" y="684.80" font-size="34.86" font-weight="bold" textLength="124.27" lengthAdjust="spacingAndGlyphs" style="white-space:pre;fill:#0a0a0a;stroke:#0a0a0a;stroke-width:0.796981132075471px;stroke-linejoin:round;letter-spacing:0.07em">ENTRANCE</text>
<text x="787.80" y="433.00" font-size="35.35" font-weight="bold" textLength="88.72" lengthAdjust="spacingAndGlyphs" style="white-space:pre;fill:#0a0a0a;stroke:#0a0a0a;stroke-width:0.7849056603773585px;stroke-linejoin:round;letter-spacing:0.07em">PANTRY</text>
<text x="885.40" y="420.80" font-size="34.54" font-weight="bold" textLength="43.52" lengthAdjust="spacingAndGlyphs" style="white-space:pre;fill:#0a0a0a;stroke:#0a0a0a;stroke-width:0.7818867924528312px;stroke-linejoin:round;letter-spacing:0.02em">REF</text>
<text x="854.00" y="526.00" font-size="35.83" font-weight="bold" textLength="101.55" lengthAdjust="spacingAndGlyphs" style="white-space:pre;fill:#0a0a0a;stroke:#0a0a0a;stroke-width:0.8150943396226416px;stroke-linejoin:round;letter-spacing:0.07em">KITCHEN</text>
<text x="824.00" y="580.80" font-size="36.68" font-weight="bold" textLength="164.13" lengthAdjust="spacingAndGlyphs" style="white-space:pre;fill:#0a0a0a;stroke:#0a0a0a;stroke-width:0.8181132075471671px;stroke-linejoin:round;letter-spacing:0.07em">13&#x27;2&quot; X 12&#x27;7&quot;</text>
<text x="1005.80" y="518.00" font-size="34.47" font-weight="bold" textLength="36.65" lengthAdjust="spacingAndGlyphs" style="white-space:pre;fill:#0a0a0a;stroke:#0a0a0a;stroke-width:0.8000000000000002px;stroke-linejoin:round;letter-spacing:0.02em">DW</text>
<text x="1176.00" y="230.20" font-size="36.45" font-weight="bold" textLength="229.27" lengthAdjust="spacingAndGlyphs" style="white-space:pre;fill:#0a0a0a;stroke:#0a0a0a;stroke-width:0.8030188679245283px;stroke-linejoin:round;letter-spacing:0.07em">PRIMARY BEDROOM</text>
<text x="1209.40" y="284.20" font-size="35.83" font-weight="bold" textLength="164.53" lengthAdjust="spacingAndGlyphs" style="white-space:pre;fill:#0a0a0a;stroke:#0a0a0a;stroke-width:0.8150943396226416px;stroke-linejoin:round;letter-spacing:0.07em">12&#x27;2&quot; X 12&#x27;9&quot;</text>
<text x="1421.20" y="169.80" font-size="34.40" font-weight="bold" textLength="26.82" lengthAdjust="spacingAndGlyphs" style="white-space:pre;fill:#0a0a0a;stroke:#0a0a0a;stroke-width:0.769811320754717px;stroke-linejoin:round;letter-spacing:0.02em">CL</text>
<text x="1421.20" y="266.00" font-size="34.66" font-weight="bold" textLength="26.82" lengthAdjust="spacingAndGlyphs" style="white-space:pre;fill:#0a0a0a;stroke:#0a0a0a;stroke-width:0.7667924528301889px;stroke-linejoin:round;letter-spacing:0.02em">CL</text>
<text x="1162.00" y="413.20" font-size="36.45" font-weight="bold" textLength="174.84" lengthAdjust="spacingAndGlyphs" style="white-space:pre;fill:#0a0a0a;stroke:#0a0a0a;stroke-width:0.8030188679245273px;stroke-linejoin:round;letter-spacing:0.07em">SECOND FLOOR</text>
<text x="1490.20" y="188.80" font-size="37.06" font-weight="bold" textLength="114.70" lengthAdjust="spacingAndGlyphs" style="white-space:pre;fill:#0a0a0a;stroke:#0a0a0a;stroke-width:0.8241509433962269px;stroke-linejoin:round;letter-spacing:0.07em">BEDROOM</text>
<text x="1499.80" y="242.20" font-size="34.83" font-weight="bold" textLength="104.53" lengthAdjust="spacingAndGlyphs" style="white-space:pre;fill:#0a0a0a;stroke:#0a0a0a;stroke-width:0.7728301886792451px;stroke-linejoin:round;letter-spacing:0.07em">9&#x27; X 9&#x27;8&quot;</text>
<text x="1649.80" y="169.40" font-size="35.88" font-weight="bold" textLength="26.39" lengthAdjust="spacingAndGlyphs" style="white-space:pre;fill:#0a0a0a;stroke:#0a0a0a;stroke-width:0.7909433962264156px;stroke-linejoin:round;letter-spacing:0.02em">CL</text>
<text x="1649.80" y="267.40" font-size="35.88" font-weight="bold" textLength="26.39" lengthAdjust="spacingAndGlyphs" style="white-space:pre;fill:#0a0a0a;stroke:#0a0a0a;stroke-width:0.7909433962264149px;stroke-linejoin:round;letter-spacing:0.02em">CL</text>
<text x="1744.00" y="180.80" font-size="35.83" font-weight="bold" textLength="115.90" lengthAdjust="spacingAndGlyphs" style="white-space:pre;fill:#0a0a0a;stroke:#0a0a0a;stroke-width:0.8060377358490571px;stroke-linejoin:round;letter-spacing:0.07em">BEDROOM</text>
<text x="1729.20" y="233.80" font-size="34.86" font-weight="bold" textLength="148.32" lengthAdjust="spacingAndGlyphs" style="white-space:pre;fill:#0a0a0a;stroke:#0a0a0a;stroke-width:0.7969811320754718px;stroke-linejoin:round;letter-spacing:0.07em">10&#x27;9&quot; X 8&#x27;3&quot;</text>
<text x="1784.40" y="323.20" font-size="33.66" font-weight="bold" textLength="59.67" lengthAdjust="spacingAndGlyphs" style="white-space:pre;fill:#0a0a0a;stroke:#0a0a0a;stroke-width:0.7577358490566027px;stroke-linejoin:round;letter-spacing:0.07em">BATH</text>
<text x="1678.60" y="410.00" font-size="34.86" font-weight="bold" textLength="26.15" lengthAdjust="spacingAndGlyphs" style="white-space:pre;fill:#0a0a0a;stroke:#0a0a0a;stroke-width:0.796981132075471px;stroke-linejoin:round;letter-spacing:0.02em">CL</text>
<text x="389.80" y="938.60" font-size="35.83" font-weight="bold" textLength="220.48" lengthAdjust="spacingAndGlyphs" style="white-space:pre;fill:#0a0a0a;stroke:#0a0a0a;stroke-width:0.806037735849058px;stroke-linejoin:round;letter-spacing:0.07em">RECREATION ROOM</text>
<text x="416.80" y="991.80" font-size="35.35" font-weight="bold" textLength="166.32" lengthAdjust="spacingAndGlyphs" style="white-space:pre;fill:#0a0a0a;stroke:#0a0a0a;stroke-width:0.7849056603773585px;stroke-linejoin:round;letter-spacing:0.07em">20&#x27;4&quot; X 12&#x27;9&quot;</text>
<text x="712.20" y="912.20" font-size="36.72" font-weight="bold" textLength="62.05" lengthAdjust="spacingAndGlyphs" style="white-space:pre;fill:#0a0a0a;stroke:#0a0a0a;stroke-width:0.809056603773587px;stroke-linejoin:round;letter-spacing:0.07em">BATH</text>
<text x="849.00" y="911.80" font-size="34.70" font-weight="bold" textLength="121.86" lengthAdjust="spacingAndGlyphs" style="white-space:pre;fill:#0a0a0a;stroke:#0a0a0a;stroke-width:0.8120754716981126px;stroke-linejoin:round;letter-spacing:0.07em">LAUNDRY/</text>
<text x="863.00" y="957.20" font-size="36.72" font-weight="bold" textLength="89.06" lengthAdjust="spacingAndGlyphs" style="white-space:pre;fill:#0a0a0a;stroke:#0a0a0a;stroke-width:0.809056603773587px;stroke-linejoin:round;letter-spacing:0.07em">UTILITY</text>
<text x="830.20" y="1007.00" font-size="36.17" font-weight="bold" textLength="163.12" lengthAdjust="spacingAndGlyphs" style="white-space:pre;fill:#0a0a0a;stroke:#0a0a0a;stroke-width:0.8120754716981126px;stroke-linejoin:round;letter-spacing:0.07em">10&#x27;8&quot; X 13&#x27;7&quot;</text>
<text x="810.60" y="1084.80" font-size="35.35" font-weight="bold" textLength="13.98" lengthAdjust="spacingAndGlyphs" style="white-space:pre;fill:#0a0a0a;stroke:#0a0a0a;stroke-width:0.7849056603773585px;stroke-linejoin:round;letter-spacing:0.02em">D</text>
<text x="847.00" y="1084.80" font-size="35.35" font-weight="bold" textLength="20.75" lengthAdjust="spacingAndGlyphs" style="white-space:pre;fill:#0a0a0a;stroke:#0a0a0a;stroke-width:0.7849056603773585px;stroke-linejoin:round;letter-spacing:0.02em">W</text>
<text x="466.80" y="1191.00" font-size="34.86" font-weight="bold" textLength="105.50" lengthAdjust="spacingAndGlyphs" style="white-space:pre;fill:#0a0a0a;stroke:#0a0a0a;stroke-width:0.7969811320754745px;stroke-linejoin:round;letter-spacing:0.07em">STORAGE</text>
<text x="454.80" y="1240.80" font-size="36.14" font-weight="bold" textLength="136.14" lengthAdjust="spacingAndGlyphs" style="white-space:pre;fill:#0a0a0a;stroke:#0a0a0a;stroke-width:0.8211320754716995px;stroke-linejoin:round;letter-spacing:0.07em">24&#x27; X 11&#x27;7&quot;</text>
<text x="290.80" y="1354.40" font-size="33.59" font-weight="bold" textLength="158.88" lengthAdjust="spacingAndGlyphs" style="white-space:pre;fill:#0a0a0a;stroke:#0a0a0a;stroke-width:0.7879245283018909px;stroke-linejoin:round;letter-spacing:0.07em">LOWER LEVEL</text>
<text x="55.60" y="1435.60" font-size="24.97" font-weight="bold" textLength="462.22" lengthAdjust="spacingAndGlyphs" style="white-space:pre;fill:#0a0a0a;stroke:#0a0a0a;stroke-width:0.0px;stroke-linejoin:round;letter-spacing:0.07em">PREPARED  BY  HOME MEDIA GROUP INC.  TEL 212-731-2301</text>
<text x="56.60" y="1465.80" font-size="24.97" font-weight="bold" textLength="1081.41" lengthAdjust="spacingAndGlyphs" style="white-space:pre;fill:#0a0a0a;stroke:#0a0a0a;stroke-width:0.0px;stroke-linejoin:round;letter-spacing:0.07em">THIS FLOOR PLAN ILLUSTRATION IS AN APPROXIMATION OF EXISTING STRUCTURES AND FEATURES AND IS PROVIDED FOR CONVENIENCE ONLY</text>
<text x="56.60" y="1496.00" font-size="24.97" font-weight="bold" textLength="1007.81" lengthAdjust="spacingAndGlyphs" style="white-space:pre;fill:#0a0a0a;stroke:#0a0a0a;stroke-width:0.0px;stroke-linejoin:round;letter-spacing:0.07em">WITH THE PERMISSION OF THE SELLER. ALL MEASUREMENTS ARE APPROXIMATE AND NOT GUARANTEED TO BE EXACT OR TO SCALE.</text>
<text x="1321.80" y="1451.40" font-size="65.01" font-weight="normal" textLength="134.05" lengthAdjust="spacingAndGlyphs" style="white-space:pre;fill:#111;stroke:#111;stroke-width:0.6px;stroke-linejoin:round;letter-spacing:0em">edia</text>
<text x="1369.00" y="1477.20" font-size="24.07" font-weight="normal" textLength="93.88" lengthAdjust="spacingAndGlyphs" style="white-space:pre;fill:#9b9b9b;stroke:#9b9b9b;stroke-width:0.0px;stroke-linejoin:round;letter-spacing:0em">GROUP</text>
<text x="1171.60" y="1494.90" font-size="13.49" font-weight="bold" textLength="86.30" lengthAdjust="spacingAndGlyphs" style="white-space:pre;fill:#1a1a1a;stroke:#1a1a1a;stroke-width:0.3px;stroke-linejoin:round;letter-spacing:0.22em">PHOTOGRAPHY</text>
<text x="1273.50" y="1494.90" font-size="13.49" font-weight="bold" textLength="73.40" lengthAdjust="spacingAndGlyphs" style="white-space:pre;fill:#1a1a1a;stroke:#1a1a1a;stroke-width:0.3px;stroke-linejoin:round;letter-spacing:0.22em">FLOOR PLAN</text>
<text x="1362.50" y="1494.90" font-size="13.49" font-weight="bold" textLength="35.55" lengthAdjust="spacingAndGlyphs" style="white-space:pre;fill:#1a1a1a;stroke:#1a1a1a;stroke-width:0.3px;stroke-linejoin:round;letter-spacing:0.22em">VIDEO</text>
<text x="1413.50" y="1494.90" font-size="13.49" font-weight="bold" textLength="50.93" lengthAdjust="spacingAndGlyphs" style="white-space:pre;fill:#1a1a1a;stroke:#1a1a1a;stroke-width:0.3px;stroke-linejoin:round;letter-spacing:0.22em">3D TOUR</text>
<text x="1793.40" y="1524.50" font-size="30.53" font-weight="normal" textLength="183.86" lengthAdjust="spacingAndGlyphs" style="white-space:pre;fill:#a4a4a4;stroke:#a4a4a4;stroke-width:0.0px;stroke-linejoin:round;letter-spacing:0em">OneKey MLS</text>
<text x="623.30" y="62.70" font-size="48.86" font-weight="bold" textLength="41.44" lengthAdjust="spacingAndGlyphs" style="white-space:pre;fill:#0a0a0a;stroke:#0a0a0a;stroke-width:1.0747169811320754px;stroke-linejoin:round;letter-spacing:0.02em">49</text>
<text x="674.60" y="62.70" font-size="48.86" font-weight="bold" textLength="146.14" lengthAdjust="spacingAndGlyphs" style="white-space:pre;fill:#0a0a0a;stroke:#0a0a0a;stroke-width:1.0747169811320754px;stroke-linejoin:round;letter-spacing:0.07em">THORNEY</text>
<text x="826.60" y="62.70" font-size="48.86" font-weight="bold" textLength="125.39" lengthAdjust="spacingAndGlyphs" style="white-space:pre;fill:#0a0a0a;stroke:#0a0a0a;stroke-width:1.0747169811320754px;stroke-linejoin:round;letter-spacing:0.07em">AVENUE</text>
<text x="960.80" y="62.70" font-size="48.86" font-weight="bold" textLength="202.31" lengthAdjust="spacingAndGlyphs" style="white-space:pre;fill:#0a0a0a;stroke:#0a0a0a;stroke-width:1.0747169811320754px;stroke-linejoin:round;letter-spacing:0.07em">HUNTINGTON</text>
<text x="1172.40" y="62.70" font-size="48.86" font-weight="bold" textLength="125.91" lengthAdjust="spacingAndGlyphs" style="white-space:pre;fill:#0a0a0a;stroke:#0a0a0a;stroke-width:1.0747169811320754px;stroke-linejoin:round;letter-spacing:0.07em">STATION</text>
<text x="1308.10" y="62.70" font-size="48.86" font-weight="bold" textLength="41.97" lengthAdjust="spacingAndGlyphs" style="white-space:pre;fill:#0a0a0a;stroke:#0a0a0a;stroke-width:1.0747169811320754px;stroke-linejoin:round;letter-spacing:0.02em">NY</text>
<g id="logo">
<rect x="1172" y="1385" width="5.4" height="21.5" fill="#111"/>
<rect x="1172" y="1419" width="5.4" height="33.6" fill="#111"/>
<rect x="1205.9" y="1404.7" width="5.3" height="47.9" fill="#111"/>
<rect x="1172" y="1424.4" width="39" height="6.4" fill="#111"/>
<circle cx="1238.9" cy="1434.4" r="16.1" fill="none" stroke="#111" stroke-width="4.9"/>
<circle cx="1238.9" cy="1434.4" r="10.3" fill="#a8a8a8"/>
<g stroke="#fff" stroke-width="1.1">
<line x1="1238.9" y1="1424" x2="1236" y2="1434"/><line x1="1248.5" y1="1430" x2="1239" y2="1433"/><line x1="1246" y1="1442" x2="1240" y2="1434"/><line x1="1234" y1="1444" x2="1238" y2="1435"/><line x1="1229" y1="1437" x2="1238" y2="1436"/><line x1="1230" y1="1427" x2="1238" y2="1434"/>
</g>
<circle cx="1238.9" cy="1434.4" r="3" fill="#fff"/>
<path d="M1270 1452.6 L1270 1406 L1290.4 1447 L1310.3 1406 L1310.3 1470" fill="none" stroke="#9b9b9b" stroke-width="4.8" stroke-linejoin="miter"/>
<path d="M1171.3 1415.5 L1252.6 1373 L1305.7 1400.5" fill="none" stroke="#a0a0a0" stroke-width="4.8"/>
<path d="M1310.5 1402.5 L1318.5 1406.7" fill="none" stroke="#a0a0a0" stroke-width="4.8"/>
<line x1="1172" y1="1470.2" x2="1301" y2="1470.2" stroke="#9f9f9f" stroke-width="4" stroke-linecap="round"/>
<line x1="1310" y1="1470.2" x2="1365.5" y2="1470.2" stroke="#9f9f9f" stroke-width="4" stroke-linecap="round"/>
<rect x="1263.8" y="1482.3" width="1.7" height="15.3" fill="#1a1a1a"/>
<rect x="1352.7" y="1482.3" width="1.7" height="15.3" fill="#1a1a1a"/>
<rect x="1403.9" y="1482.3" width="1.7" height="15.3" fill="#1a1a1a"/>
</g>

</svg>
</body></html>
